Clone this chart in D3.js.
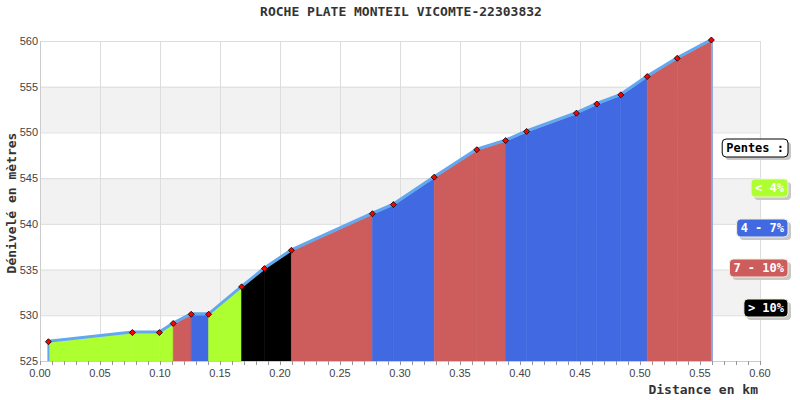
<!DOCTYPE html>
<html>
<head>
<meta charset="utf-8">
<script src="https://cdn.jsdelivr.net/npm/d3@7"></script>
<style>
  body { margin: 0; background: #fff; }
  svg { display: block; }
</style>
</head>
<body>
<div id="chart"></div>
<script>
/* ===== Data ===== */

const title = "ROCHE PLATE MONTEIL VICOMTE-22303832";

// distance (km) and elevation (m) of each profile point
const distances = [0.007, 0.077, 0.0995, 0.111, 0.126, 0.1405, 0.168, 0.187, 0.2095,
  0.277, 0.2945, 0.3285, 0.364, 0.388, 0.4055, 0.447, 0.464, 0.484, 0.506, 0.531, 0.5595];
const elevations = [527, 528, 528, 529, 530, 530, 533, 535, 537,
  541, 542, 545, 548, 549, 550, 552, 553, 554, 556, 558, 560];

// slope class of each segment (point i -> point i+1)
const segmentClass = [0, 0, 0, 2, 1, 0, 3, 3, 2, 1, 1, 2, 2, 1, 1, 1, 1, 1, 2, 2];

const classLabels = ["< 4%", "4 - 7%", "7 - 10%", "> 10%"];
const classColors = ["#adff2f", "#4169e1", "#cd5c5c", "#000000"];

const xTicks = [0, 0.05, 0.1, 0.15, 0.2, 0.25, 0.3, 0.35, 0.4, 0.45, 0.5, 0.55, 0.6];
const yTicks = [525, 530, 535, 540, 545, 550, 555, 560];

/* ===== Layout ===== */

const W = 800, H = 400;
const margin = { top: 41, right: 40, bottom: 39, left: 40 };
const width = W - margin.left - margin.right;
const height = H - margin.top - margin.bottom;

const svg = d3.select("#chart").append("svg")
  .attr("width", W)
  .attr("height", H);

const g = svg.append("g")
  .attr("transform", `translate(${margin.left},${margin.top})`);

const x = d3.scaleLinear().domain([0, 0.6]).range([0, width]);
const y = d3.scaleLinear().domain([525, 560]).range([height, 0]);

const points = distances.map((d, i) => ({ d: d, e: elevations[i] }));

/* ===== Background bands + grid ===== */

for (let i = 0; i < yTicks.length - 1; i++) {
  if (i % 2 === 1) {
    g.append("rect")
      .attr("x", 0)
      .attr("y", y(yTicks[i + 1]))
      .attr("width", width)
      .attr("height", y(yTicks[i]) - y(yTicks[i + 1]))
      .attr("fill", "#f2f2f2");
  }
}

g.selectAll(".hgrid")
  .data(yTicks)
  .enter().append("line")
  .attr("x1", 0).attr("x2", width)
  .attr("y1", d => y(d) + 0.5).attr("y2", d => y(d) + 0.5)
  .attr("stroke", "#dddddd");

g.selectAll(".vgrid")
  .data(xTicks)
  .enter().append("line")
  .attr("x1", d => Math.round(x(d)) + 0.5).attr("x2", d => Math.round(x(d)) + 0.5)
  .attr("y1", 0).attr("y2", height)
  .attr("stroke", "#dddddd");

/* ===== Coloured slope segments ===== */

const area = d3.area()
  .x(p => x(p.d))
  .y0(height)
  .y1(p => y(p.e));

segmentClass.forEach((c, i) => {
  g.append("path")
    .datum([points[i], points[i + 1]])
    .attr("d", area)
    .attr("fill", classColors[c])
    .attr("stroke", classColors[c])
    .attr("stroke-width", 0.6);
});

/* ===== Profile line ===== */

const line = d3.line()
  .x(p => x(p.d))
  .y(p => y(p.e));

g.append("path")
  .datum(points)
  .attr("d", line)
  .attr("transform", "translate(0,-1.5)")
  .attr("fill", "none")
  .attr("stroke", "#62a8f0")
  .attr("stroke-width", 3);

const first = points[0], last = points[points.length - 1];
g.append("line")
  .attr("x1", x(first.d)).attr("x2", x(first.d))
  .attr("y1", y(first.e) - 2).attr("y2", height)
  .attr("stroke", "#62a8f0").attr("stroke-width", 2);
g.append("line")
  .attr("x1", x(last.d) + 0.5).attr("x2", x(last.d) + 0.5)
  .attr("y1", y(last.e)).attr("y2", height)
  .attr("stroke", "#8aa3dc").attr("stroke-width", 2);

/* ===== Markers ===== */

g.selectAll(".dot")
  .data(points)
  .enter().append("path")
  .attr("d", "M0,-3L3,0L0,3L-3,0Z")
  .attr("transform", p => `translate(${x(p.d)},${y(p.e) - 1})`)
  .attr("fill", "#ff0000")
  .attr("stroke", "#000")
  .attr("stroke-width", 0.8);

/* ===== Axes ===== */

const xAxis = g.append("g")
  .attr("transform", `translate(0,${height})`)
  .call(d3.axisBottom(x).tickValues(d3.range(0, 61).map(i => i / 100)).tickSize(4).tickFormat(""));
xAxis.select(".domain").attr("stroke", "#cccccc");
xAxis.selectAll(".tick line").attr("stroke", "#999");

g.selectAll(".xlab")
  .data(xTicks)
  .enter().append("text")
  .attr("x", d => x(d))
  .attr("y", height + 16)
  .attr("text-anchor", "middle")
  .attr("font-family", "Liberation Sans, Arial, sans-serif")
  .attr("font-size", 11)
  .attr("fill", "#444")
  .text(d => d.toFixed(2));

g.append("line")
  .attr("x1", 0.5).attr("x2", 0.5)
  .attr("y1", 0).attr("y2", height)
  .attr("stroke", "#cccccc");

g.selectAll(".ylab")
  .data(yTicks)
  .enter().append("text")
  .attr("x", -2)
  .attr("y", d => y(d) + 4)
  .attr("text-anchor", "end")
  .attr("font-family", "Liberation Sans, Arial, sans-serif")
  .attr("font-size", 11)
  .attr("fill", "#444")
  .text(d => d);

/* ===== Titles ===== */

const mono = "DejaVu Sans Mono, monospace";

svg.append("text")
  .attr("x", 401)
  .attr("y", 16)
  .attr("text-anchor", "middle")
  .attr("font-family", mono)
  .attr("font-weight", "bold")
  .attr("font-size", 13)
  .attr("fill", "#333")
  .text(title);

svg.append("text")
  .attr("x", 758)
  .attr("y", 394)
  .attr("text-anchor", "end")
  .attr("font-family", mono)
  .attr("font-weight", "bold")
  .attr("font-size", 13)
  .attr("fill", "#333")
  .text("Distance en km");

svg.append("text")
  .attr("transform", "translate(16,203) rotate(-90)")
  .attr("text-anchor", "middle")
  .attr("font-family", mono)
  .attr("font-weight", "bold")
  .attr("font-size", 13)
  .attr("fill", "#333")
  .text("Dénivelé en mètres");

/* ===== Legend ===== */

const legendItems = [{ label: "Pentes :", fill: "#fff", text: "#000", stroke: "#000" }]
  .concat(classLabels.map((l, i) => ({ label: l, fill: classColors[i], text: "#fff", stroke: "#f3f0d8" })));

const legendRight = 788;
legendItems.forEach((it, i) => {
  const top = 139 + i * 40;
  const gl = svg.append("g");
  const t = gl.append("text")
    .attr("font-family", mono)
    .attr("font-weight", "bold")
    .attr("font-size", 12)
    .attr("fill", it.text)
    .text(it.label);
  const tw = t.node().getComputedTextLength();
  const bw = tw + 8;
  const bh = 18;
  const bx = legendRight - bw;
  gl.insert("rect", "text")
    .attr("x", bx + 3).attr("y", top + 3)
    .attr("width", bw).attr("height", bh)
    .attr("rx", 4)
    .attr("fill", "#c8c8c8");
  gl.insert("rect", "text")
    .attr("x", bx).attr("y", top)
    .attr("width", bw).attr("height", bh)
    .attr("rx", 4)
    .attr("fill", it.fill)
    .attr("stroke", it.stroke)
    .attr("stroke-width", 1);
  t.attr("x", bx + 4).attr("y", top + 13);
});
</script>
</body>
</html>
